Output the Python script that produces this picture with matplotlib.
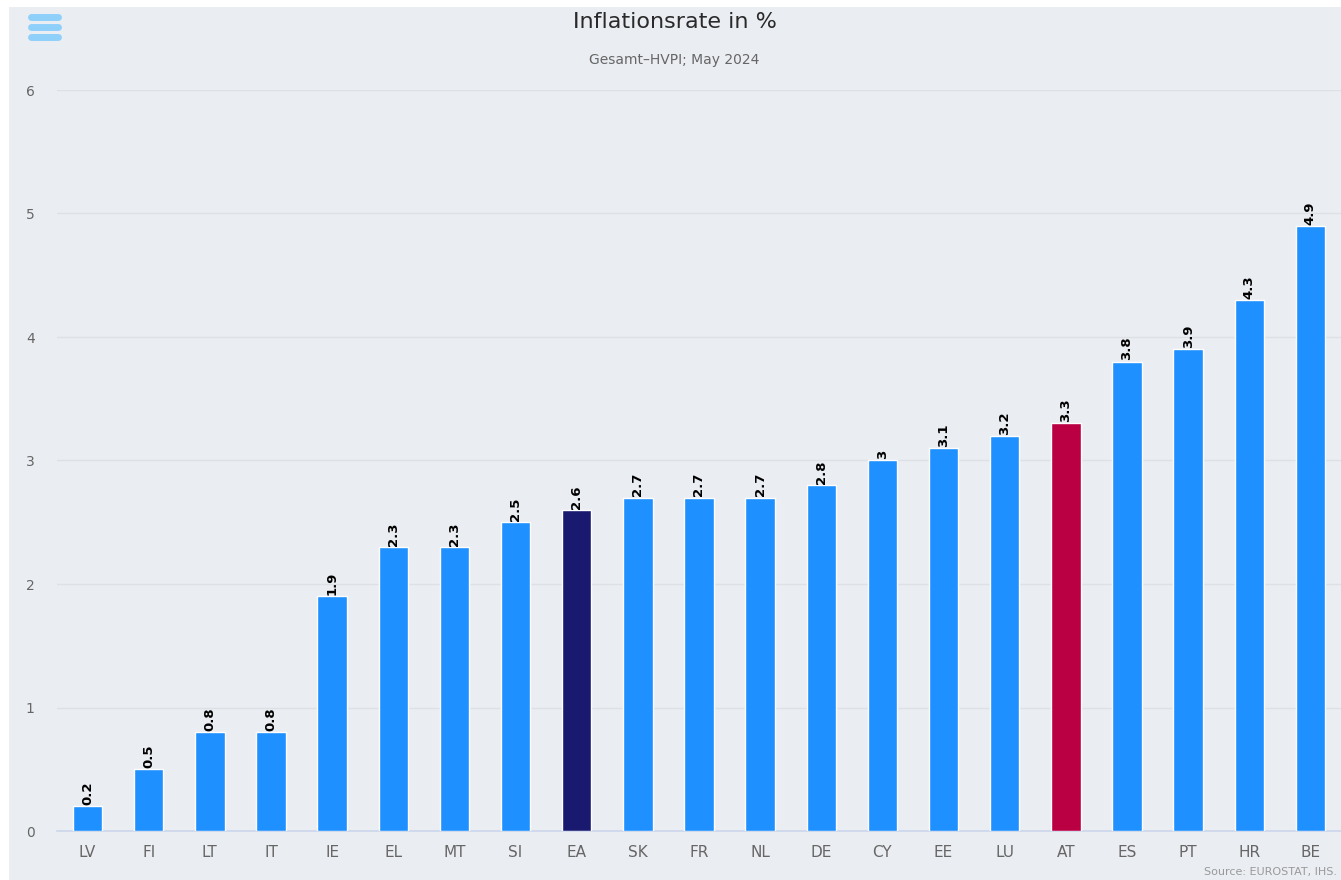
import matplotlib
matplotlib.use('Agg')
import matplotlib.pyplot as plt
from matplotlib.patches import Rectangle

countries = ['LV', 'FI', 'LT', 'IT', 'IE', 'EL', 'MT', 'SI', 'EA', 'SK', 'FR',
             'NL', 'DE', 'CY', 'EE', 'LU', 'AT', 'ES', 'PT', 'HR', 'BE']
rates = [0.2, 0.5, 0.8, 0.8, 1.9, 2.3, 2.3, 2.5, 2.6, 2.7, 2.7,
         2.7, 2.8, 3.0, 3.1, 3.2, 3.3, 3.8, 3.9, 4.3, 4.9]
yticks = [0, 1, 2, 3, 4, 5, 6]

BG = '#eaedf2'
colors = []
for c in countries:
    if c == 'EA':
        colors.append('#191970')
    elif c == 'AT':
        colors.append('#ba0043')
    else:
        colors.append('#1e90ff')

W, H = 1341, 880
fig = plt.figure(figsize=(W / 100, H / 100), dpi=100, facecolor='white')
# chart background panel (thin white margin at top/left), behind the axes
fig.add_artist(Rectangle((9 / W, 0), 1, 1 - 7 / H, transform=fig.transFigure,
                         facecolor=BG, edgecolor='none', zorder=-5))

ax = fig.add_axes([57 / W, 1 - 831 / H, 1 - 57 / W, (831 - 90) / H])
ax.patch.set_alpha(0)

x = range(len(countries))
bars = ax.bar(x, rates, width=0.48, color=colors, edgecolor='white', linewidth=1, zorder=3)

for xi, v in zip(x, rates):
    lbl = '%g' % v
    ax.text(xi, v + 0.01, lbl, rotation=90, ha='center', va='bottom',
            fontsize=9.5, fontweight='bold', color='black', zorder=4)

ax.set_xlim(-0.5, 20.5)
ax.set_ylim(0, 6)
ax.set_yticks(yticks)
ax.set_yticklabels([str(t) for t in yticks])
ax.set_xticks(list(x))
ax.set_xticklabels(countries)
ax.tick_params(axis='y', length=0, pad=16, labelsize=10, labelcolor='#666666')
ax.tick_params(axis='x', length=0, pad=10, labelsize=11, labelcolor='#666666')
ax.grid(axis='y', color='#dde1e6', linewidth=1, zorder=0)
for s in ['top', 'right', 'left']:
    ax.spines[s].set_visible(False)
ax.spines['bottom'].set_color('#ccd6eb')
ax.spines['bottom'].set_linewidth(1.2)

fig.text(0.5 + 4 / W, 1 - 22 / H, 'Inflationsrate in %', ha='center', va='center',
         fontsize=16, color='#2a2a2a')
fig.text(0.5 + 4 / W, 1 - 60 / H, 'Gesamt\u2013HVPI; May 2024', ha='center', va='center',
         fontsize=10, color='#666666')
fig.text(1 - 4 / W, 1 - 872 / H, 'Source: EUROSTAT, IHS.', ha='right', va='center',
         fontsize=8, color='#999999')

# menu icon
for yy in [17, 27, 37]:
    fig.add_artist(plt.Line2D([31 / W, 58 / W], [1 - yy / H, 1 - yy / H],
                              color='#8fd0fb', linewidth=5, solid_capstyle='round'))

fig.savefig('out.png', dpi=100, facecolor='white')
